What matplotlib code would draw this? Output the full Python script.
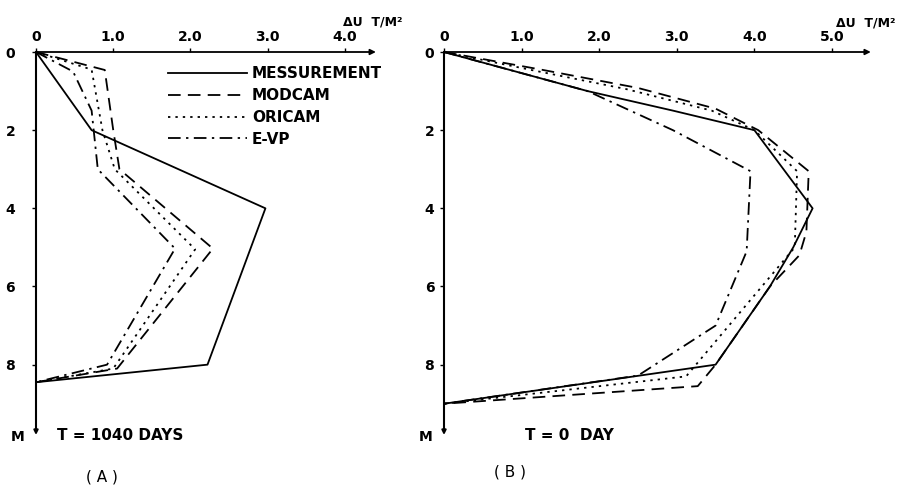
import matplotlib
matplotlib.use("Agg")
import matplotlib.pyplot as plt

W, H = 909, 488          # output size in pixels (dpi 100)

# values: depth (m) and dU (T/M^2)
series = ["MESSUREMENT", "MODCAM", "ORICAM", "E-VP"]

# (A)  T = 1040 days
depth_meas_a = [0, 2.0, 4.0, 8.0, 8.45]
du_meas_a = [0, 0.72, 2.97, 2.22, 0]
depth_modcam_a = [0, 0.46, 2.0, 3.0, 5.03, 8.1, 8.45]
du_modcam_a = [0, 0.89, 1.0, 1.08, 2.29, 1.05, 0]
depth_oricam_a = [0, 0.45, 2.0, 3.0, 5.05, 8.1, 8.45]
du_oricam_a = [0, 0.72, 0.86, 1.02, 2.06, 1.0, 0]
depth_evp_a = [0, 0.5, 1.5, 3.0, 5.03, 8.0, 8.45]
du_evp_a = [0, 0.48, 0.72, 0.8, 1.80, 0.92, 0]

# (B)  T = 0 day
depth_meas_b = [0, 1.0, 1.5, 2.0, 4.0, 5.0, 6.0, 7.0, 8.0, 9.0]
du_meas_b = [0, 1.85, 2.95, 4.0, 4.75, 4.5, 4.2, 3.85, 3.5, 0]
depth_modcam_b = [0, 0.45, 0.92, 1.45, 2.0, 3.05, 4.6, 5.2, 6.0, 7.0, 8.0, 8.55, 9.0]
du_modcam_b = [0, 1.25, 2.5, 3.5, 4.05, 4.7, 4.67, 4.58, 4.2, 3.85, 3.5, 3.27, 0]
depth_oricam_b = [0, 0.47, 0.95, 1.5, 2.0, 3.05, 5.0, 8.3, 9.0]
du_oricam_b = [0, 1.15, 2.35, 3.45, 4.0, 4.55, 4.52, 3.12, 0]
depth_evp_b = [0, 1.0, 2.0, 3.05, 5.1, 7.0, 8.28, 9.0]
du_evp_b = [0, 1.85, 2.95, 3.95, 3.9, 3.5, 2.5, 0]

xticks_a = [0, 1, 2, 3, 4]
xticklabels_a = ["0", "1.0", "2.0", "3.0", "4.0"]
xticks_b = [0, 1, 2, 3, 4, 5]
xticklabels_b = ["0", "1.0", "2.0", "3.0", "4.0", "5.0"]
yticks = [0, 2, 4, 6, 8]

linestyles = {
    "MESSUREMENT": "-",
    "MODCAM": (0, (7, 4)),
    "ORICAM": (0, (1.3, 2.8)),
    "E-VP": (0, (7, 3, 1.3, 3)),
}

plt.rcParams["font.family"] = "DejaVu Sans"
fig = plt.figure(figsize=(W / 100, H / 100), dpi=100)


def px_rect(left, top, right, bottom):
    # pixel box -> figure fraction
    return [left / W, 1 - bottom / H, (right - left) / W, (bottom - top) / H]


def panel(rect, xmax, xticks, xticklabels, data, ypad):
    ax = fig.add_axes(rect)
    for name, (du, depth) in zip(series, data):
        ax.plot(du, depth, color="k", lw=1.3, linestyle=linestyles[name],
                label=name, clip_on=False)
    ax.set_xlim(0, xmax)
    ax.set_ylim(9.8, 0)
    for s in ax.spines.values():
        s.set_visible(False)
    # axis lines with arrow heads
    ax.annotate("", xy=(xmax, 0), xytext=(0, 0), annotation_clip=False,
                arrowprops=dict(arrowstyle="-|>", color="k", lw=1.3,
                                mutation_scale=8, shrinkA=0, shrinkB=0))
    ax.annotate("", xy=(0, 9.8), xytext=(0, 0), annotation_clip=False,
                arrowprops=dict(arrowstyle="-|>", color="k", lw=1.5,
                                mutation_scale=6, shrinkA=0, shrinkB=0))
    ax.xaxis.tick_top()
    ax.set_xticks(xticks)
    ax.set_xticklabels(xticklabels, fontsize=10, fontweight="bold")
    ax.set_yticks(yticks)
    ax.set_yticklabels([str(v) for v in yticks], fontsize=10, fontweight="bold")
    ax.tick_params(axis="x", direction="out", length=3, width=1, pad=3)
    ax.tick_params(axis="y", direction="out", length=3, width=1, pad=ypad)
    return ax


ax_a = panel(px_rect(36, 52, 36 + 4.4 * 77.25, 435), 4.4, xticks_a, xticklabels_a,
             [(du_meas_a, depth_meas_a), (du_modcam_a, depth_modcam_a),
              (du_oricam_a, depth_oricam_a), (du_evp_a, depth_evp_a)], 12)
ax_b = panel(px_rect(444, 52, 444 + 5.5 * 77.6, 435), 5.5, xticks_b, xticklabels_b,
             [(du_meas_b, depth_meas_b), (du_modcam_b, depth_modcam_b),
              (du_oricam_b, depth_oricam_b), (du_evp_b, depth_evp_b)], 4)

leg = ax_a.legend(loc="upper left", bbox_to_anchor=(0.388, 0.963), frameon=False,
                  handlelength=5.2, handletextpad=0.3, labelspacing=0.45,
                  borderpad=0, borderaxespad=0,
                  prop={"size": 11, "weight": "bold"})


def ftext(x, y, s, **kw):
    fig.text(x / W, 1 - y / H, s, ha="center", va="center", **kw)


ftext(373, 22, "\u0394U  T/M\u00b2", fontsize=9, fontweight="bold")
ftext(866, 23, "\u0394U  T/M\u00b2", fontsize=9, fontweight="bold")
ftext(18, 437, "M", fontsize=10, fontweight="bold")
ftext(426, 437, "M", fontsize=10, fontweight="bold")
ftext(120, 436, "T = 1040 DAYS", fontsize=11, fontweight="bold")
ftext(569, 436, "T = 0  DAY", fontsize=11, fontweight="bold")
ftext(102, 477, "( A )", fontsize=11)
ftext(510, 472, "( B )", fontsize=11)

fig.savefig("out.png", dpi=100)
